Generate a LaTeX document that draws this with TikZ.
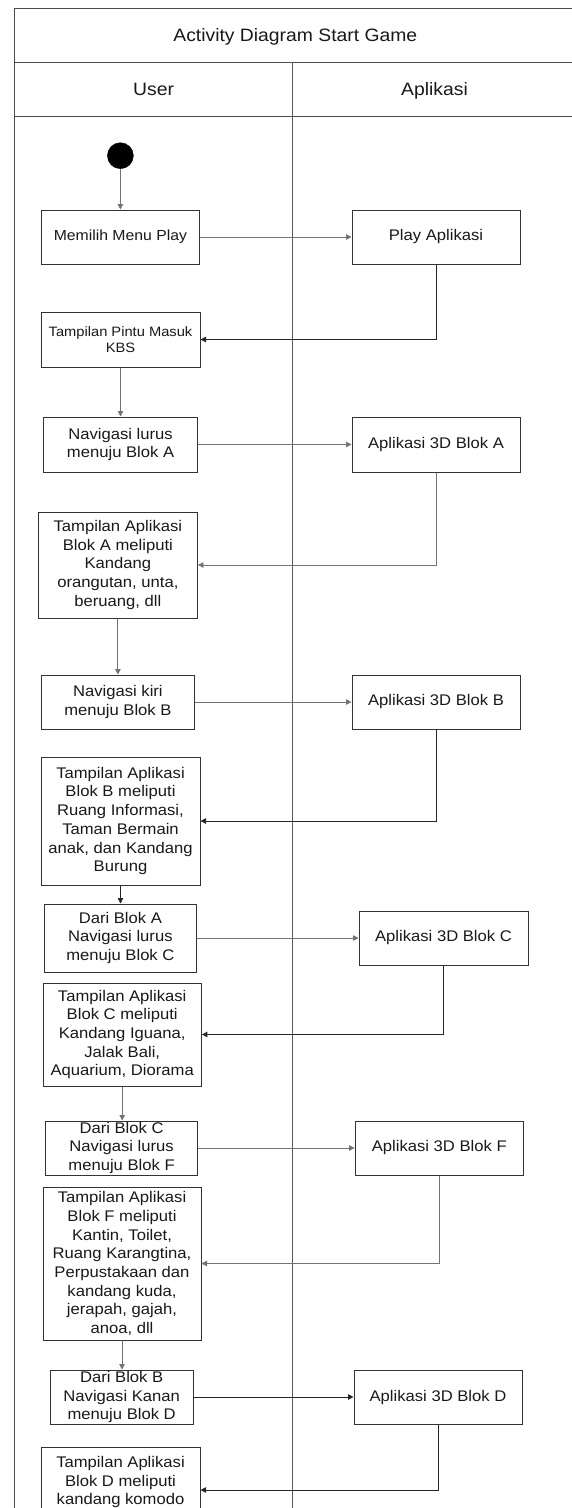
\documentclass[tikz,border=0pt]{standalone}
\usepackage{fontspec}
\setmainfont{Liberation Sans}[FakeStretch=1.08]
\usetikzlibrary{arrows.meta}
\tikzset{
  frame/.style={draw=black!70, line width=1.4pt},
  lanediv/.style={draw=black!65, line width=1pt},
  headtext/.style={anchor=base, inner sep=0pt, text=black!90, font=\fontsize{17.9}{21}\selectfont},
  actbox/.style={draw=black!80, line width=1pt, rectangle, align=center, inner sep=0pt,
    text=black!90, font=\fontsize{15.4}{18.7}\selectfont},
  flow/.style={draw=black!55, line width=0.9pt, -{Triangle[length=5.5pt,width=5.5pt]}},
  flowdark/.style={flow, draw=black!85},
}
\begin{document}
\begin{tikzpicture}[x=1pt,y=-1pt]
\useasboundingbox (0,0) rectangle (572,1508);
\fill[white] (0,0) rectangle (572,1508);
% frame
\draw[frame] (590,8.3) -- (14.6,8.3) -- (14.6,1530);
\draw[frame] (14.6,62.3) -- (590,62.3);
\draw[frame] (14.6,116.7) -- (590,116.7);
\draw[lanediv] (292.6,62.3) -- (292.6,1530);
\node[headtext] (title) at (295.3,41.4) {Activity Diagram Start Game};
\node[headtext] (user) at (153.6,95.6) {User};
\node[headtext] (app) at (434.5,95.6) {Aplikasi};
% start
\node[circle, fill=black, draw=black, minimum size=26pt, inner sep=0pt] (start) at (120.4,155.7) {};
% activities
\node[actbox, minimum width=158.4pt, minimum height=54pt, font=\fontsize{14.6}{17}\selectfont] (memilih) at (120.4,237) {Memilih Menu Play};
\node[actbox, minimum width=168pt, minimum height=54pt] (play) at (436,237) {Play Aplikasi};
\node[actbox, minimum width=159pt, minimum height=55pt, font=\fontsize{13.6}{16}\selectfont] (pintu) at (120.5,339.5) {Tampilan Pintu Masuk\\KBS};
\node[actbox, minimum width=153.6pt, minimum height=55pt] (navA) at (120.6,444.5) {Navigasi lurus\\menuju Blok A};
\node[actbox, minimum width=168pt, minimum height=55pt] (apA) at (436,444.5) {Aplikasi 3D Blok A};
\node[actbox, minimum width=159.1pt, minimum height=106pt] (tampA) at (117.9,565) {Tampilan Aplikasi\\Blok A meliputi\\Kandang\\orangutan, unta,\\beruang, dll};
\node[actbox, minimum width=153.3pt, minimum height=54pt] (navB) at (117.9,702) {Navigasi kiri\\menuju Blok B};
\node[actbox, minimum width=168pt, minimum height=54pt] (apB) at (436,702) {Aplikasi 3D Blok B};
\node[actbox, minimum width=159pt, minimum height=128pt] (tampB) at (120.5,821) {Tampilan Aplikasi\\Blok B meliputi\\Ruang Informasi,\\Taman Bermain\\anak, dan Kandang\\Burung};
\node[actbox, minimum width=151.8pt, minimum height=68pt] (dariA) at (120.4,938) {Dari Blok A\\Navigasi lurus\\menuju Blok C};
\node[actbox, minimum width=169pt, minimum height=54pt] (apC) at (443.5,938) {Aplikasi 3D Blok C};
\node[actbox, minimum width=158.4pt, minimum height=103pt] (tampC) at (122.2,1034.5) {Tampilan Aplikasi\\Blok C meliputi\\Kandang Iguana,\\Jalak Bali,\\Aquarium, Diorama};
\node[actbox, minimum width=152pt, minimum height=54pt] (dariC) at (121.6,1148) {Dari Blok C\\Navigasi lurus\\menuju Blok F};
\node[actbox, minimum width=168.5pt, minimum height=54pt] (apF) at (439.3,1148) {Aplikasi 3D Blok F};
\node[actbox, minimum width=158pt, minimum height=153pt] (tampF) at (122,1263.5) {Tampilan Aplikasi\\Blok F meliputi\\Kantin, Toilet,\\Ruang Karangtina,\\Perpustakaan dan\\kandang kuda,\\jerapah, gajah,\\anoa, dll};
\node[actbox, minimum width=143.4pt, minimum height=54pt] (dariB) at (121.7,1397) {Dari Blok B\\Navigasi Kanan\\menuju Blok D};
\node[actbox, minimum width=168pt, minimum height=54pt] (apD) at (438,1397) {Aplikasi 3D Blok D};
\node[actbox, minimum width=159pt, minimum height=86pt] (tampD) at (120.5,1490) {Tampilan Aplikasi\\Blok D meliputi\\kandang komodo\\\mbox{}};
% flows
\draw[flow] (start.south) -- (start.south |- memilih.north);
\draw[flow] (memilih.east) -- (play.west);
\draw[flowdark] (play.south) |- (pintu.east);
\draw[flow] (pintu.south) -- (pintu.south |- navA.north);
\draw[flow] (navA.east) -- (apA.west);
\draw[flow] (apA.south) |- (tampA.east);
\draw[flow] (tampA.south) -- (tampA.south |- navB.north);
\draw[flow] (navB.east) -- (apB.west);
\draw[flowdark] (apB.south) |- (tampB.east);
\draw[flowdark] (tampB.south) -- (tampB.south |- dariA.north);
\draw[flow] (dariA.east) -- (apC.west);
\draw[flowdark] (apC.south) |- (tampC.east);
\draw[flow] (tampC.south) -- (tampC.south |- dariC.north);
\draw[flow] (dariC.east) -- (apF.west);
\draw[flow] (apF.south) |- (tampF.east);
\draw[flow] (tampF.south) -- (tampF.south |- dariB.north);
\draw[flowdark] (dariB.east) -- (apD.west);
\draw[flowdark] (apD.south) |- (tampD.east);
\end{tikzpicture}
\end{document}
